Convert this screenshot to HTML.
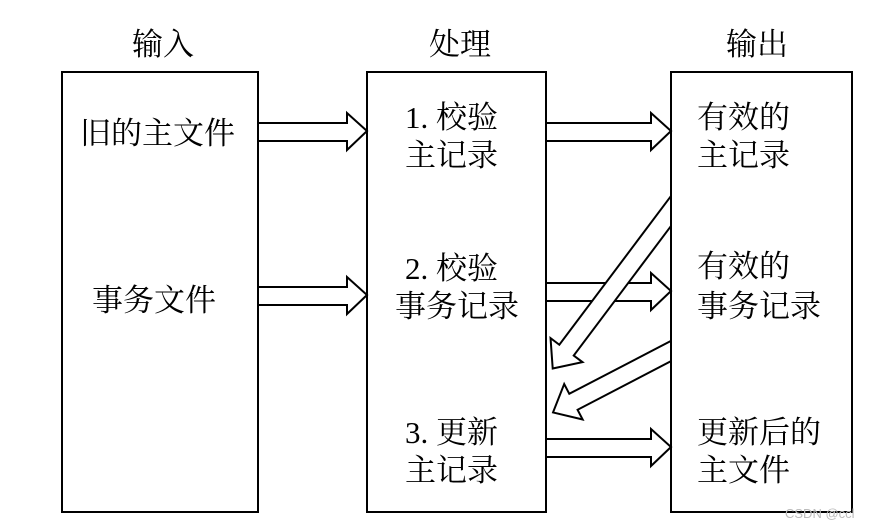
<!DOCTYPE html>
<html><head><meta charset="utf-8"><style>
html,body{margin:0;padding:0;background:#fff;}
svg text{font-family:"Liberation Serif","Noto Serif CJK SC",serif;font-size:31px;fill:#000;}
</style></head><body>
<svg width="876" height="527" viewBox="0 0 876 527" xmlns="http://www.w3.org/2000/svg">
<defs><clipPath id="c"><rect x="0" y="0" width="671" height="527"/></clipPath></defs>
<g fill="#fff" stroke="#000" stroke-width="2">
<rect x="62" y="72" width="196" height="440"/>
<rect x="367" y="72" width="179" height="440"/>
<rect x="671" y="72" width="181" height="440"/>
<polygon points="258,123 347,123 347,113 367,131 347,150 347,141 258,141"/>
<polygon points="258,287 347,287 347,277 367,295 347,314 347,305 258,305"/>
<polygon points="546,123 651,123 651,113 671,131 651,150 651,141 546,141"/>
<polygon points="546,283 651,283 651,273 671,291 651,310 651,301 546,301"/>
<polygon points="546,439 651,439 651,429 671,447 651,466 651,457 546,457"/>
<g clip-path="url(#c)">
<g transform="translate(671,211) rotate(126.9)"><polygon points="-20,-9 174,-9 174,-20 197,0 174,20 174,9 -20,9"/></g>
<g transform="translate(671,351) rotate(152.5)"><polygon points="-20,-9 110,-9 110,-20 133,0 110,20 110,9 -20,9"/></g>
</g>
<line x1="671" y1="72" x2="671" y2="512"/>
</g>
<text x="132" y="55">输入</text>
<text x="429" y="55">处理</text>
<text x="726" y="55">输出</text>
<text x="80" y="144">旧的主文件</text>
<text x="92" y="311">事务文件</text>
<text x="405" y="128">1. 校验</text>
<text x="405" y="166">主记录</text>
<text x="405" y="279">2. 校验</text>
<text x="395" y="317">事务记录</text>
<text x="405" y="443">3. 更新</text>
<text x="405" y="481">主记录</text>
<text x="697" y="128">有效的</text>
<text x="697" y="166">主记录</text>
<text x="697" y="277">有效的</text>
<text x="697" y="317">事务记录</text>
<text x="697" y="443">更新后的</text>
<text x="697" y="481">主文件</text>
<text x="785" y="518" style="font-size:13px;fill:#bbb;font-family:'Liberation Sans',sans-serif">CSDN @ccl</text>
</svg>
</body></html>
